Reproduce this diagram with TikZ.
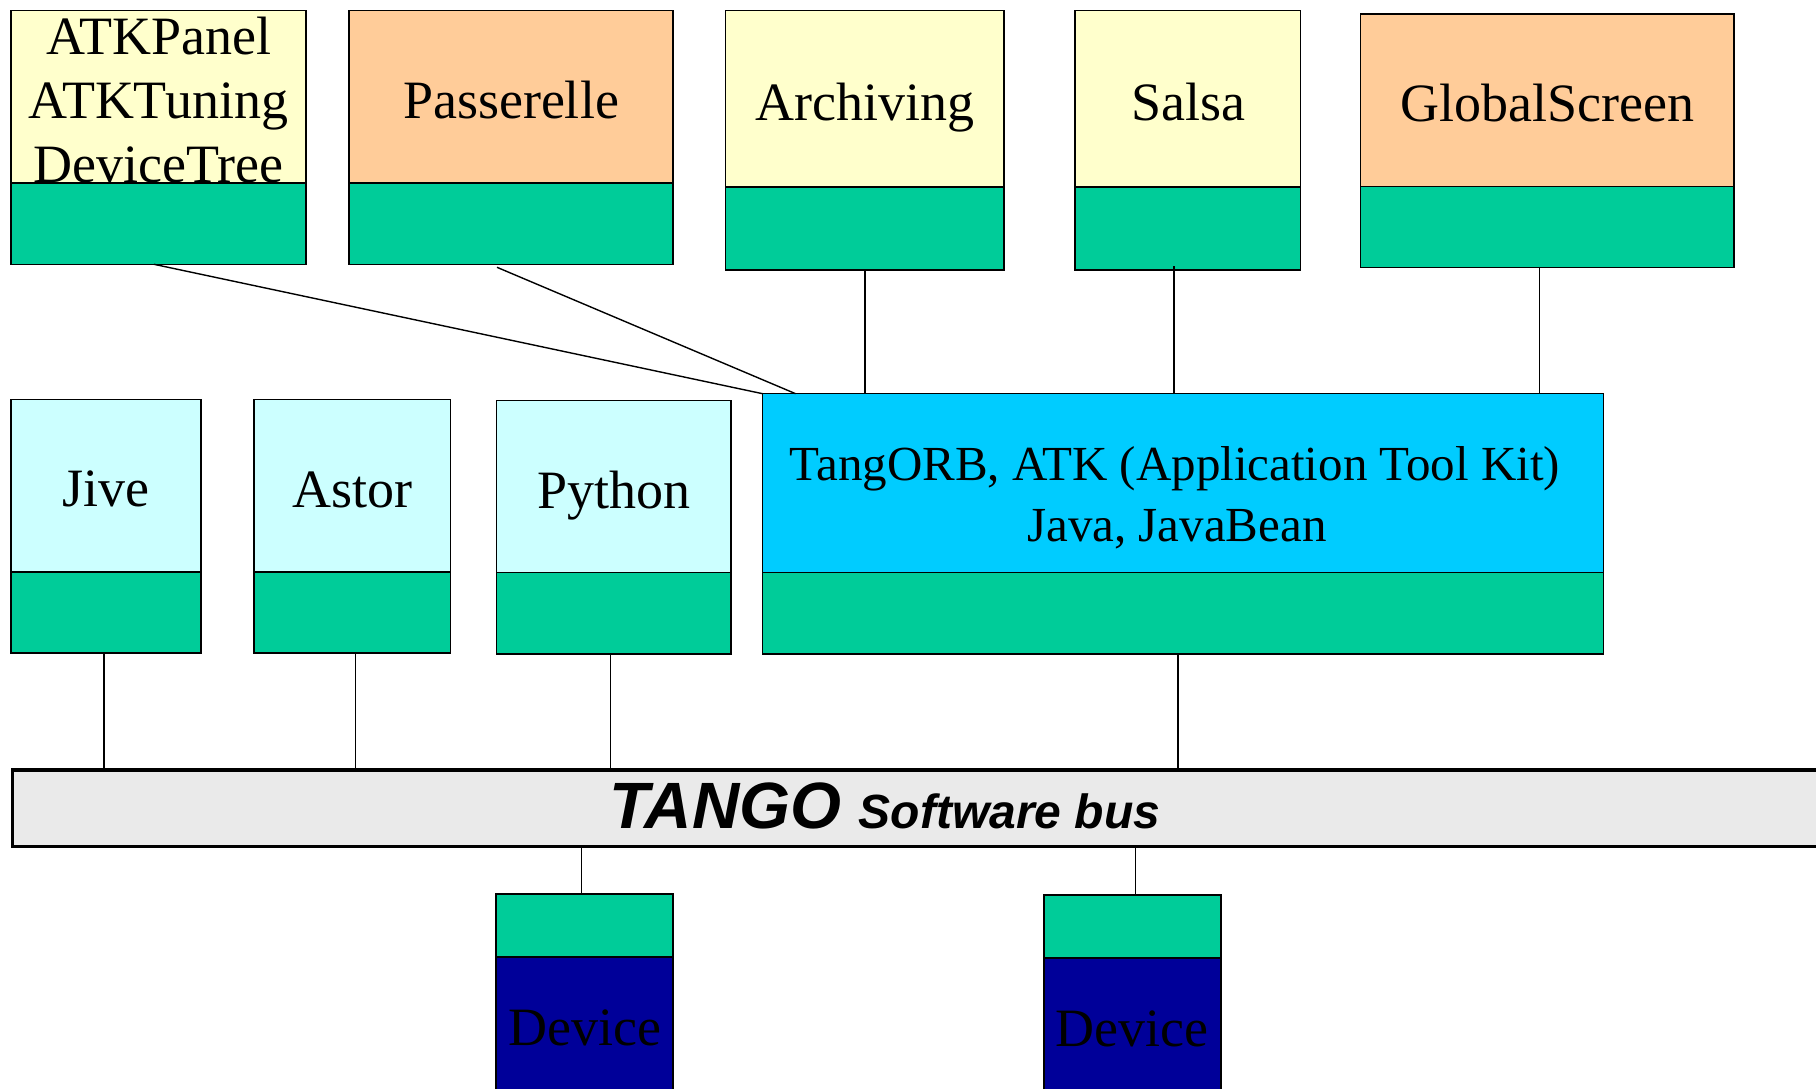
\documentclass[tikz,border=0pt]{standalone}
\usepackage{fontspec}
\setmainfont{Liberation Serif}
\newfontfamily\arialf{Liberation Sans}
\usetikzlibrary{calc}
\definecolor{cyellow}{HTML}{FFFFCC}
\definecolor{cpeach}{HTML}{FFCC99}
\definecolor{cgreen}{HTML}{00CC99}
\definecolor{ccyan}{HTML}{CCFFFF}
\definecolor{corb}{HTML}{00CCFF}
\definecolor{cbus}{HTML}{EAEAEA}
\definecolor{cnavy}{HTML}{000099}
\begin{document}
\begin{tikzpicture}[x=1pt,y=-1pt,
  box/.style={draw=black, line width=1.5pt, rectangle, inner sep=0pt, outer sep=0pt, anchor=north west},
  iface/.style={box, fill=cgreen},
  lbl/.style={inner sep=0pt, anchor=base, font=\fontsize{54}{60}\selectfont},
  wire/.style={line width=1.4pt}]
\useasboundingbox (0,0) rectangle (1816,1088);

% ---- top row ----
\node[box, fill=cyellow, minimum width=294.6, minimum height=172.3] (atk) at (11.2,10.7) {};
\node[iface, minimum width=294.6, minimum height=81.3] (atkI) at (atk.south west) {};
\node[lbl] (atkT1) at (158.5,54) {ATKPanel};
\node[lbl] (atkT2) at (158.5,118) {ATKTuning};
\node[lbl] (atkT3) at (158.5,182) {DeviceTree};

\node[box, fill=cpeach, minimum width=324, minimum height=172.3] (pas) at (349,10.7) {};
\node[iface, minimum width=324, minimum height=81.3] (pasI) at (pas.south west) {};
\node[lbl] (pasT) at (511,118) {Passerelle};

\node[box, fill=cyellow, minimum width=278.4, minimum height=176.3] (arch) at (725.6,10.7) {};
\node[iface, minimum width=278.4, minimum height=83] (archI) at (arch.south west) {};
\node[lbl] (archT) at (864.8,120) {Archiving};

\node[box, fill=cyellow, minimum width=225.7, minimum height=176.3] (salsa) at (1075,10.7) {};
\node[iface, minimum width=225.7, minimum height=83] (salsaI) at (salsa.south west) {};
\node[lbl] (salsaT) at (1188.6,120) {Salsa};

\node[box, fill=cpeach, minimum width=373.5, minimum height=172.7] (gs) at (1360.5,14) {};
\node[iface, minimum width=373.5, minimum height=81] (gsI) at (gs.south west) {};
\node[lbl] (gsT) at (1547.7,121.7) {GlobalScreen};

% ---- middle row ----
\node[box, fill=ccyan, minimum width=189.8, minimum height=172.7] (jive) at (11.2,399.3) {};
\node[iface, minimum width=189.8, minimum height=81] (jiveI) at (jive.south west) {};
\node[lbl] (jiveT) at (106.4,506.7) {Jive};

\node[box, fill=ccyan, minimum width=196.5, minimum height=172.7] (astor) at (254,399.3) {};
\node[iface, minimum width=196.5, minimum height=81] (astorI) at (astor.south west) {};
\node[lbl] (astorT) at (352.7,507.3) {Astor};

\node[box, fill=ccyan, minimum width=234.6, minimum height=172] (py) at (496.4,400.7) {};
\node[iface, minimum width=234.6, minimum height=81.3] (pyI) at (py.south west) {};
\node[lbl] (pyT) at (614,508.3) {Python};

\node[box, fill=corb, minimum width=840.8, minimum height=178.6] (orb) at (762.6,393.7) {};
\node[iface, minimum width=840.8, minimum height=81.7] (orbI) at (orb.south west) {};
\node[lbl, font=\fontsize{49}{56}\selectfont] (orbT1) at (1175,480) {TangORB, ATK (Application Tool Kit)};
\node[lbl, font=\fontsize{49}{56}\selectfont] (orbT2) at (1177,541.7) {Java, JavaBean};

% ---- bus ----
\node[draw=black, line width=3.5pt, fill=cbus, rectangle, inner sep=0pt, anchor=north west,
      minimum width=1830, minimum height=76.5] (bus) at (10.5,768) {};
\node[inner sep=0pt, anchor=base west, font=\arialf\bfseries\itshape\fontsize{65.5}{70}\selectfont] (busT1) at (609.5,828.3) {TANGO};
\node[inner sep=0pt, anchor=base west, font=\arialf\bfseries\itshape\fontsize{48}{56}\selectfont] (busT2) at (858.5,828.3) {Software bus};

% ---- devices ----
\node[iface, minimum width=177, minimum height=63] (dev1I) at (496,894) {};
\node[box, fill=cnavy, minimum width=177, minimum height=150] (dev1) at (dev1I.south west) {};
\node[lbl] (dev1T) at (584.5,1045) {Device};

\node[iface, minimum width=177, minimum height=63] (dev2I) at (1044,895) {};
\node[box, fill=cnavy, minimum width=177, minimum height=150] (dev2) at (dev2I.south west) {};
\node[lbl] (dev2T) at (1131.6,1046.7) {Device};

% ---- connectors ----
\coordinate (cAtk) at ($(atkI.south)+(-4.5,0)$);
\coordinate (cPas) at ($(pasI.south)+(-14,3)$);
\coordinate (oPas) at ($(orb.north west)+(33,0)$);
\coordinate (cSal) at ($(salsaI.south)+(-14,-4)$);
\coordinate (cGs)  at ($(gsI.south)+(-8,0)$);
\draw[wire] (cAtk) -- (orb.north west);
\draw[wire] (cPas) -- (oPas);
\draw[wire] (archI.south) -- (archI.south |- orb.north);
\draw[wire] (cSal) -- (cSal |- orb.north);
\draw[wire] (cGs) -- (cGs |- orb.north);

\coordinate (cJive) at ($(jiveI.south)+(-2,0)$);
\coordinate (cAst) at ($(astorI.south)+(3,0)$);
\coordinate (cPy) at ($(pyI.south)+(-3,0)$);
\coordinate (cOrb) at ($(orbI.south)+(-5,0)$);
\draw[wire] (cJive) -- (cJive |- bus.north);
\draw[wire] (cAst) -- (cAst |- bus.north);
\draw[wire] (cPy) -- (cPy |- bus.north);
\draw[wire] (cOrb) -- (cOrb |- bus.north);

\coordinate (cD1) at ($(dev1I.north)+(-3,0)$);
\coordinate (cD2) at ($(dev2I.north)+(3,0)$);
\draw[wire] (cD1) -- (cD1 |- bus.south);
\draw[wire] (cD2) -- (cD2 |- bus.south);
\end{tikzpicture}
\end{document}
